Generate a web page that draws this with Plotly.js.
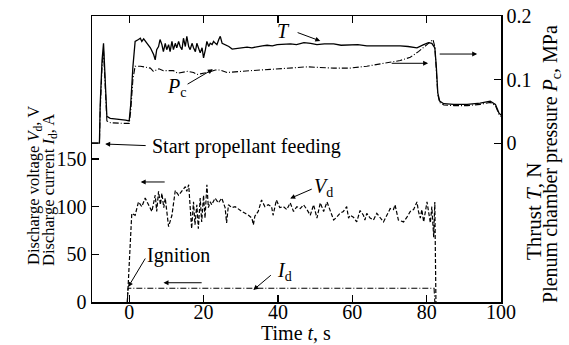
<!DOCTYPE html>
<html>
<head>
<meta charset="utf-8">
<script src="https://cdn.plot.ly/plotly-3.0.1.min.js"></script>
<style>html,body{margin:0;padding:0;background:#fff;}#chart{width:569px;height:345px;}</style>
</head>
<body>
<div id="chart"></div>
<script>
// Thrust T (N), right axis
const timeT = [-10, -8.0, -7.8, -7.3, -6.9, -6.5, -6.0, -5.1, -3, -1, 0.0, 0.4, 1.0, 1.6, 2.5, 3.0, 3.4, 3.9, 4.8, 5.7, 6.6, 7.0, 7.4, 7.9, 8.3, 8.8, 9.2, 9.7, 10.1, 10.6, 11.0, 11.5, 11.9, 12.4, 12.8, 13.3, 13.7, 14.2, 14.6, 15.1, 15.5, 16.0, 16.4, 16.9, 17.3, 17.8, 18.2, 18.7, 19.1, 19.6, 20.0, 20.5, 20.9, 21.4, 21.8, 22.3, 22.7, 23.2, 23.6, 24.1, 24.5, 25.0, 25.9, 26.8, 27.7, 29.0, 30.5, 31.7, 33.0, 34.4, 35.8, 37.1, 38.5, 39.8, 41.5, 43.4, 45.0, 47.0, 48.8, 50.5, 52.5, 55.0, 57.0, 59.4, 61.5, 63.9, 66.0, 68.4, 70.5, 72.9, 75.0, 76.2, 77.4, 79.2, 80.5, 81.4, 82.2, 82.6, 83.0, 83.5, 84.6, 87.3, 90.9, 94.4, 97.1, 98.5, 99.4, 100];
const thrust = [0, 0, 0.06, 0.13, 0.157, 0.10, 0.042, 0.039, 0.038, 0.036, 0.035, 0.06, 0.12, 0.16, 0.163, 0.165, 0.16, 0.164, 0.157, 0.15, 0.139, 0.131, 0.147, 0.152, 0.163, 0.155, 0.144, 0.157, 0.147, 0.155, 0.144, 0.16, 0.147, 0.157, 0.15, 0.16, 0.152, 0.147, 0.165, 0.152, 0.168, 0.152, 0.147, 0.157, 0.15, 0.144, 0.157, 0.147, 0.142, 0.15, 0.134, 0.147, 0.16, 0.152, 0.157, 0.155, 0.16, 0.157, 0.155, 0.163, 0.168, 0.157, 0.155, 0.152, 0.148, 0.149, 0.151, 0.151, 0.150, 0.152, 0.153, 0.154, 0.153, 0.155, 0.156, 0.156, 0.155, 0.158, 0.157, 0.155, 0.156, 0.156, 0.154, 0.155, 0.155, 0.153, 0.153, 0.154, 0.154, 0.153, 0.152, 0.151, 0.150, 0.155, 0.158, 0.157, 0.150, 0.121, 0.079, 0.066, 0.062, 0.061, 0.061, 0.063, 0.066, 0.061, 0.048, 0.044];

// Plenum chamber pressure Pc (MPa), right axis
const timeP = [-10, -8.0, -7.8, -7.3, -6.9, -6.5, -6.0, -5, -3, -1, 0.0, 0.4, 1.0, 1.6, 3.0, 5.7, 6.5, 7.4, 8.0, 9.2, 11.9, 13.0, 14.6, 15.8, 17.3, 18.2, 19.1, 20.9, 23.2, 24.5, 26.3, 28.1, 32.6, 37.9, 43.4, 47.9, 55.0, 59.4, 63.9, 68.4, 72.9, 75.6, 77.8, 80.1, 81.7, 82.2, 82.6, 83.0, 83.5, 84.6, 87.3, 90.9, 94.4, 97.1, 98.5, 99.4, 100];
const pressure = [0, 0, 0.05, 0.12, 0.145, 0.09, 0.035, 0.032, 0.031, 0.031, 0.031, 0.05, 0.10, 0.121, 0.121, 0.118, 0.113, 0.115, 0.117, 0.114, 0.114, 0.110, 0.112, 0.113, 0.111, 0.108, 0.109, 0.111, 0.115, 0.115, 0.111, 0.112, 0.114, 0.116, 0.118, 0.120, 0.118, 0.118, 0.121, 0.125, 0.130, 0.135, 0.144, 0.155, 0.163, 0.152, 0.118, 0.077, 0.064, 0.060, 0.059, 0.059, 0.061, 0.064, 0.059, 0.046, 0.042];

// Discharge voltage Vd (V), left axis
const timeV = [-0.5, 0.5, 0.7, 1.6, 2.5, 3.4, 4.3, 5.2, 6.1, 7.0, 7.4, 7.9, 8.4, 8.8, 9.3, 9.7, 10.6, 11.5, 12.4, 13.3, 14.2, 15.1, 15.5, 16.0, 16.8, 17.3, 17.7, 18.2, 18.6, 19.1, 19.5, 20.0, 20.4, 20.9, 21.3, 21.8, 22.2, 23.1, 24.0, 24.9, 25.8, 26.2, 26.7, 27.6, 28.5, 29.4, 30.3, 31.2, 32.1, 33.0, 33.4, 33.8, 34.7, 35.6, 36.5, 37.4, 38.3, 38.7, 39.6, 40.5, 41.5, 42.4, 43.3, 44.2, 45.1, 46.0, 46.9, 47.8, 48.7, 49.6, 50.5, 51.4, 52.3, 53.2, 54.1, 55.0, 55.8, 56.7, 57.6, 58.5, 59.0, 59.4, 60.3, 61.2, 62.1, 63.0, 63.4, 63.9, 64.8, 65.7, 66.6, 67.5, 68.4, 69.3, 70.2, 71.1, 71.5, 72.4, 73.8, 74.7, 75.6, 76.5, 77.4, 77.8, 78.3, 78.7, 79.2, 80.1, 80.5, 81.0, 81.4, 81.9, 82.2, 82.5];
const voltage = [0, 91, 93, 91, 105, 100, 109, 102, 95, 112, 95, 116, 102, 114, 99, 109, 79, 91, 117, 112, 116, 121, 116, 123, 77, 105, 81, 102, 77, 109, 84, 112, 88, 123, 99, 105, 102, 109, 104, 109, 99, 83, 102, 99, 100, 97, 95, 93, 91, 88, 81, 90, 95, 107, 100, 102, 100, 91, 107, 99, 100, 97, 104, 95, 100, 98, 102, 97, 91, 102, 88, 104, 95, 105, 95, 86, 89, 93, 95, 100, 88, 91, 89, 84, 96, 91, 86, 93, 88, 86, 93, 88, 84, 91, 98, 97, 102, 86, 84, 89, 95, 97, 105, 95, 88, 97, 84, 105, 95, 83, 100, 68, 105, 0];

// Discharge current Id (A), left axis
const timeI = [-0.5, -0.3, 82.0, 82.2];
const current = [0, 14.4, 14.4, 0];

const xTicks = [0, 20, 40, 60, 80, 100];
const yLeftTicks = [0, 50, 100, 150];
const yRightTicks = [0, 0.1, 0.2];
const yRightLabels = ['0', '0.1', '0.2'];

const FONT = 'Liberation Serif';
const FS = 20;

const traces = [
  {x: timeV, y: voltage, mode: 'lines', line: {color: '#000', width: 1.2, dash: '4px,2px'}, yaxis: 'y', hoverinfo: 'none'},
  {x: timeI, y: current, mode: 'lines', line: {color: '#000', width: 1.1, dash: '6px,2px,1px,2px'}, yaxis: 'y', hoverinfo: 'none'},
  {x: timeP, y: pressure, mode: 'lines', line: {color: '#000', width: 1.1, dash: '6px,2px,1px,2px'}, yaxis: 'y2', hoverinfo: 'none'},
  {x: timeT, y: thrust, mode: 'lines', line: {color: '#000', width: 1.3}, yaxis: 'y2', hoverinfo: 'none'}
];

function arrow(tx, ty, hx, hy) {
  return {x: hx, y: hy, xref: 'x', yref: 'y', ax: tx, ay: ty, axref: 'x', ayref: 'y',
    text: '', showarrow: true, arrowhead: 2, arrowsize: 1, arrowwidth: 1, arrowcolor: '#000', standoff: 0, startstandoff: 0};
}
function label(txt, x, y, xanchor) {
  return {x: x, y: y, xref: 'x', yref: 'y', text: txt, showarrow: false, xanchor: xanchor || 'center', yanchor: 'middle',
    font: {family: FONT, size: FS, color: '#000'}};
}
function ptitle(txt, x, y, angle, size) {
  return {x: x, y: y, xref: 'paper', yref: 'paper', text: txt, showarrow: false, textangle: angle,
    xanchor: 'center', yanchor: 'middle', font: {family: FONT, size: size || FS, color: '#000'}};
}

const annotations = [
  label('<i>T</i>', 41.4, 284.3),
  arrow(44.9, 283.2, 51.4, 273.8),
  label('<i>P</i><sub>c</sub>', 12.6, 224.5),
  arrow(15.3, 227.6, 22.5, 244.1),
  arrow(70.2, 250.4, 80.4, 250.4),
  arrow(83.1, 260.1, 93.6, 260.1),
  label('Start propellant feeding', 5.65, 163.6, 'left'),
  arrow(4.84, 164.0, -6.46, 165.7),
  label('Ignition', 13.2, 49.3),
  arrow(4.57, 47.2, -0.27, 15.7),
  label('<i>I</i><sub>d</sub>', 41.7, 32.5),
  arrow(38.5, 29.4, 33.4, 12.6),
  arrow(19.9, 20.2, 9.23, 20.2),
  arrow(9.95, 125.9, 3.09, 125.9),
  label('<i>V</i><sub>d</sub>', 52.2, 119.6),
  arrow(49.5, 119.1, 43.3, 108.6),
  ptitle('Discharge voltage <i>V</i><sub>d</sub>, V', -0.1418, 0.4056, -90, 16.5),
  ptitle('Discharge current <i>I</i><sub>d</sub>, A', -0.1052, 0.3916, -90, 16.5),
  ptitle('Thrust <i>T</i>, N', 1.0807, 0.3147, -90, 21),
  ptitle('Plenum chamber pressure <i>P</i><sub>c</sub>, MPa', 1.1222, 0.4825, -90, 20),
  ptitle('Time <i>t</i>, s', 0.4988, -0.1084, 0)
];

const layout = {
  width: 569, height: 345,
  margin: {l: 92, r: 68, t: 16, b: 43, pad: 0},
  paper_bgcolor: '#fff', plot_bgcolor: '#fff',
  showlegend: false,
  font: {family: FONT, size: FS, color: '#000'},
  xaxis: {range: [-10, 100], tickvals: xTicks, ticks: 'inside', ticklen: 7, tickwidth: 1.2, tickcolor: '#000',
    showline: true, linecolor: '#000', linewidth: 1.5, mirror: 'ticks', showgrid: false, zeroline: false,
    ticklabelstandoff: -9,
    tickfont: {family: FONT, size: FS, color: '#000'}},
  yaxis: {range: [0, 300], tickvals: yLeftTicks, ticks: 'inside', ticklen: 7, tickwidth: 1.2, tickcolor: '#000',
    showline: true, linecolor: '#000', linewidth: 1.5, showgrid: false, zeroline: false,
    tickfont: {family: FONT, size: FS, color: '#000'}},
  yaxis2: {range: [-0.25, 0.2], tickvals: yRightTicks, ticktext: yRightLabels, overlaying: 'y', side: 'right',
    ticks: 'inside', ticklen: 7, tickwidth: 1.2, tickcolor: '#000',
    showline: true, linecolor: '#000', linewidth: 1.5, showgrid: false, zeroline: false,
    tickfont: {family: FONT, size: FS, color: '#000'}},
  annotations: annotations
};

Plotly.newPlot('chart', traces, layout, {displayModeBar: false, staticPlot: true});
</script>
</body>
</html>
